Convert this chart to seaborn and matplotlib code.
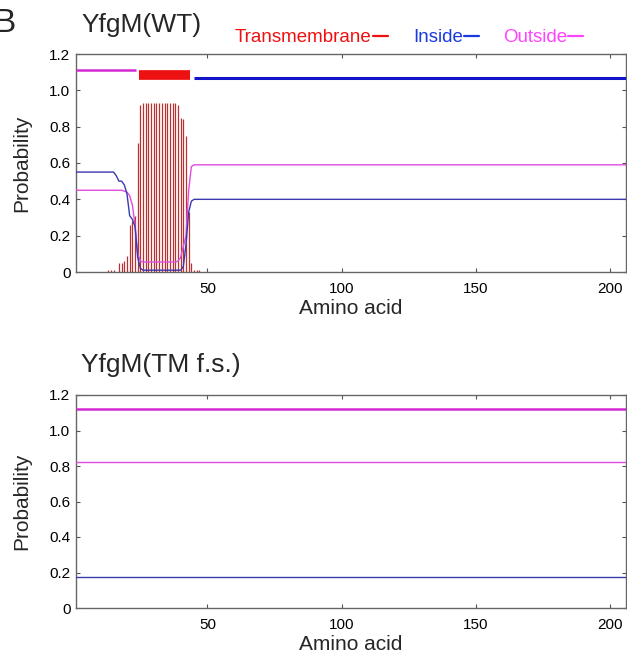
"""
TMHMM-style posterior probability plots for YfgM (WT and TM frameshift).
"""
import numpy as np
import pandas as pd
import seaborn as sns
import matplotlib.pyplot as plt
from matplotlib.lines import Line2D

# residue positions (protein length 206)
residues = np.arange(1, 207)

# WT posterior probabilities
inside_wt = ([0.55] * 15
             + [0.53, 0.50, 0.50, 0.48, 0.43, 0.31, 0.29, 0.25, 0.08, 0.02]
             + [0.01] * 15
             + [0.03, 0.15, 0.33, 0.39]
             + [0.40] * 162)
outside_wt = ([0.45] * 18
              + [0.445, 0.44, 0.42, 0.37, 0.26, 0.10, 0.06]
              + [0.055] * 13
              + [0.06, 0.08, 0.14, 0.20, 0.45, 0.58]
              + [0.59] * 162)
tm_wt = ([0] * 12
         + [0.01, 0.01, 0.01, 0.0, 0.05, 0.05, 0.06, 0.09, 0.26, 0.28, 0.31, 0.71]
         + [0.92]
         + [0.93] * 13
         + [0.92, 0.85, 0.84, 0.75, 0.33, 0.05, 0.01, 0.01, 0.01]
         + [0] * 159)

# frameshift mutant: flat profiles
inside_fs = [0.175] * 206
outside_fs = [0.825] * 206

# predicted topology segments (label, start, end)
topo_wt = [("outside", 1, 23.5), ("tm", 24.5, 43.5), ("inside", 45, 206)]
topo_fs = [("outside", 1, 206)]

titles = ["YfgM(WT)", "YfgM(TM f.s.)"]
yticks = [0, 0.2, 0.4, 0.6, 0.8, 1.0, 1.2]
ytick_labels = ["0", "0.2", "0.4", "0.6", "0.8", "1.0", "1.2"]
xticks = [50, 100, 150, 200]

thin = {"inside": "#3a3ab0", "outside": "#e04ce0"}
thick = {"inside": "#1414c8", "outside": "#d22ad2", "tm": "#ee1111"}
topo_y = {"inside": 1.07, "outside": 1.11, "tm": 1.087}
topo_lw = {"inside": 2.2, "outside": 1.8, "tm": 7.0}

sns.set_theme(style="ticks")
plt.rcParams["font.family"] = ["Liberation Sans", "DejaVu Sans"]

fig = plt.figure(figsize=(6.27, 6.54), dpi=100)
W, H = 627, 654
ax1 = fig.add_axes([76 / W, 1 - 272 / H, 550 / W, 218 / H])
ax2 = fig.add_axes([76 / W, 1 - 608 / H, 550 / W, 213 / H])


def draw(ax, inside, outside, tm, topo, fs_topo_y=None):
    if tm is not None:
        ax.vlines(residues, 0, tm, color="#b83232", lw=0.9, zorder=2)
    df = pd.DataFrame({"res": residues, "inside": inside, "outside": outside})
    sns.lineplot(data=df, x="res", y="outside", ax=ax, color=thin["outside"], lw=1.0, zorder=3)
    sns.lineplot(data=df, x="res", y="inside", ax=ax, color=thin["inside"], lw=1.0, zorder=3)
    for kind, s, e in topo:
        y = topo_y[kind] if fs_topo_y is None else fs_topo_y
        ax.hlines(y, s, e, color=thick[kind], lw=topo_lw[kind], capstyle="butt", zorder=4)
    ax.set_xlim(1, 206)
    ax.set_ylim(0, 1.2)
    ax.set_xticks(xticks)
    ax.set_yticks(yticks)
    ax.set_yticklabels(ytick_labels)
    ax.tick_params(direction="in", length=3, width=0.8, colors="#555555",
                   labelcolor="black", labelsize=11, top=True, right=True)
    ax.tick_params(axis="x", pad=7)
    ax.tick_params(axis="y", pad=4)
    for sp in ax.spines.values():
        sp.set_color("#666666")
        sp.set_linewidth(1.0)
    ax.set_xlabel("Amino acid", fontsize=15, labelpad=2)
    ax.set_ylabel("Probability", fontsize=15, labelpad=13)


draw(ax1, inside_wt, outside_wt, tm_wt, topo_wt)
draw(ax2, inside_fs, outside_fs, None, topo_fs, fs_topo_y=1.12)

fig.text(15 / W, 1 - 24 / H, "B", fontsize=24, ha="right", va="center")
fig.text(81 / W, 1 - 25 / H, titles[0], fontsize=19, ha="left", va="center")
fig.text(81 / W, 1 - 365 / H, titles[1], fontsize=19, ha="left", va="center")

# legend: coloured label followed by a short dash of the same colour
legend_items = [("Transmembrane", "#ee1111", 235), ("Inside", "#1a3ae0", 413),
                ("Outside", "#ff44ff", 503)]
fig.canvas.draw()
renderer = fig.canvas.get_renderer()
for txt, col, x in legend_items:
    t = fig.text(x / W, 1 - 37 / H, txt, fontsize=13.5, color=col, ha="left", va="center")
    bb = t.get_window_extent(renderer)
    x0 = bb.x1 / W + 1 / W
    fig.add_artist(Line2D([x0, x0 + 15 / W], [1 - 36 / H, 1 - 36 / H],
                          transform=fig.transFigure, color=col, lw=1.6))

fig.savefig("out.png", dpi=100)
